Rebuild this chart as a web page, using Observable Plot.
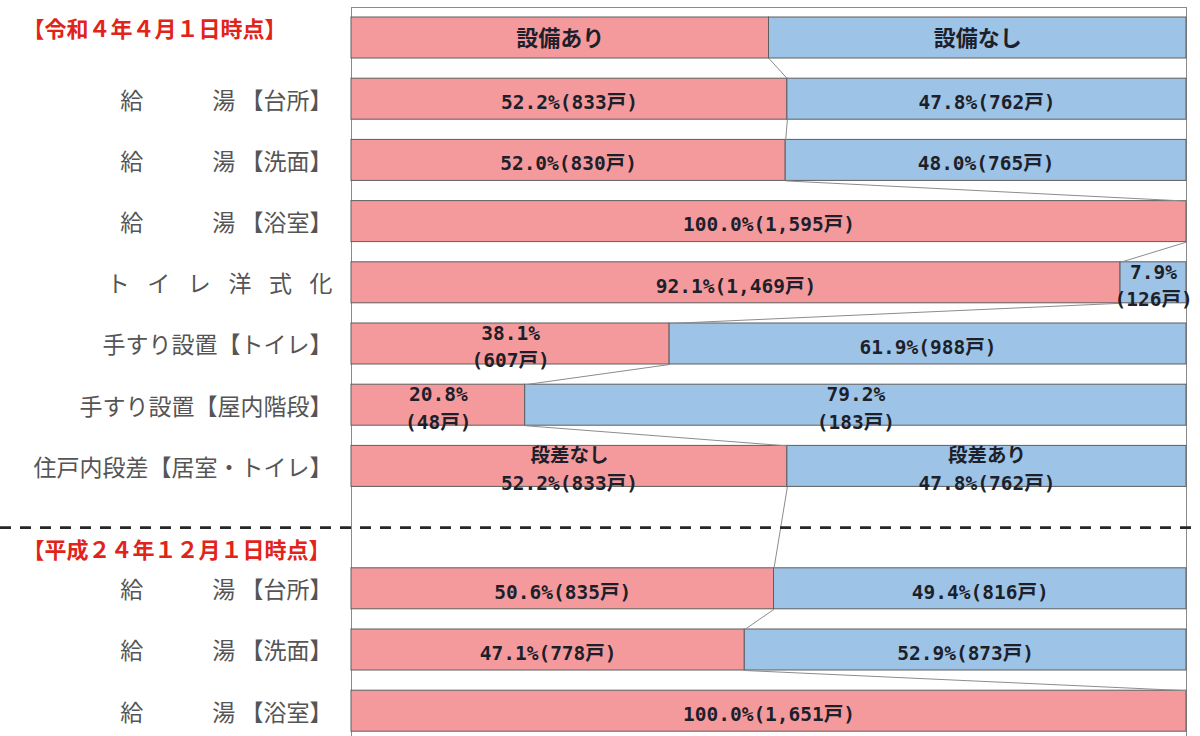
<!DOCTYPE html>
<html lang="ja">
<head>
<meta charset="utf-8">
<script src="https://cdn.jsdelivr.net/npm/d3@7"></script>
<script src="https://cdn.jsdelivr.net/npm/@observablehq/plot@0.6"></script>
<style>
  html, body { margin: 0; padding: 0; background: #fff; }
</style>
</head>
<body>
<div id="chart"></div>
<script>
// Section headings
const sectionTitles = ["【令和４年４月１日時点】", "【平成２４年１２月１日時点】"];

// Header legend bar
const headerLabels = ["設備あり", "設備なし"];
const headerSplit = 50;

// Words shown above the numbers on the step (段差) row
const stepWords = ["段差なし", "段差あり"];

// Survey as of 2022-04-01 (令和4年)
const itemsR4 = [
  "給　　　湯 【台所】",
  "給　　　湯 【洗面】",
  "給　　　湯 【浴室】",
  "ト\u2002\u2009\u200Aイ\u2002\u2009\u200Aレ\u2002\u2009\u200A洋\u2002\u2009\u200A式\u2002\u2009\u200A化",
  "手すり設置【トイレ】",
  "手すり設置【屋内階段】",
  "住戸内段差【居室・トイレ】"
];
const yesPctR4   = [52.2, 52.0, 100.0, 92.1, 38.1, 20.8, 52.2];
const yesCountR4 = [833, 830, 1595, 1469, 607, 48, 833];
const noPctR4    = [47.8, 48.0, 0, 7.9, 61.9, 79.2, 47.8];
const noCountR4  = [762, 765, 0, 126, 988, 183, 762];

// Survey as of 2012-12-01 (平成24年)
const itemsH24 = [
  "給　　　湯 【台所】",
  "給　　　湯 【洗面】",
  "給　　　湯 【浴室】"
];
const yesPctH24   = [50.6, 47.1, 100.0];
const yesCountH24 = [835, 778, 1651];
const noPctH24    = [49.4, 52.9, 0];
const noCountH24  = [816, 873, 0];

// ---- layout helpers ----
const PINK = "#F49A9C";
const BLUE = "#9DC3E6";
const bandFrac = 0.67;               // bar thickness as a share of one row step
const STEP_ROW_R4 = 6;               // index of the 段差 row within itemsR4
// segments whose label is split onto two lines: "row:side"
const wrapped = new Set(["r4-3:no", "r4-4:yes", "r4-5:yes", "r4-5:no"]);

const fmtCount = d3.format(",");

// Build rows in drawing order; one empty row separates the two surveys.
const rows = [];
let idx = 0;
rows.push({key: "header", idx: idx++, label: "", yes: headerSplit, no: 100 - headerSplit, header: true});
itemsR4.forEach((label, i) => rows.push({
  key: `r4-${i}`, idx: idx++, label,
  yes: yesPctR4[i], yesN: yesCountR4[i], no: noPctR4[i], noN: noCountR4[i],
  step: i === STEP_ROW_R4
}));
const gapIdx = idx++;
itemsH24.forEach((label, i) => rows.push({
  key: `h24-${i}`, idx: idx++, label,
  yes: yesPctH24[i], yesN: yesCountH24[i], no: noPctH24[i], noN: noCountH24[i]
}));
const rowCount = idx;

// Bar segments (left = 設備あり / pink, right = 設備なし / blue)
const segments = [];
for (const r of rows) {
  for (const side of ["yes", "no"]) {
    const pct = r[side];
    if (!(pct > 0)) continue;
    const x1 = side === "yes" ? 0 : r.yes;
    const x2 = side === "yes" ? r.yes : 100;
    let text;
    if (r.header) {
      text = side === "yes" ? headerLabels[0] : headerLabels[1];
    } else {
      const p = pct.toFixed(1) + "%";
      const n = "(" + fmtCount(side === "yes" ? r.yesN : r.noN) + "戸)";
      text = wrapped.has(`${r.key}:${side}`) ? p + "\n" + n : p + n;
      if (r.step) text = (side === "yes" ? stepWords[0] : stepWords[1]) + "\n" + text;
    }
    segments.push({idx: r.idx, x1, x2, fill: side === "yes" ? PINK : BLUE, text, header: !!r.header});
  }
}

// Thin connector lines joining the pink/blue boundary of consecutive bars
const connectors = [];
for (let i = 0; i + 1 < rows.length; i++) {
  const a = rows[i], b = rows[i + 1];
  connectors.push({x1: a.yes, y1: a.idx + bandFrac, x2: b.yes, y2: b.idx});
}

// Dashed separator between the two surveys
const sepY = ((gapIdx - 1) + bandFrac + (gapIdx + 1)) / 2;

const labelFont = '"Noto Sans CJK JP", "Noto Sans CJK SC", sans-serif';
const numFont = '"DejaVu Sans Mono", "Noto Sans CJK JP", monospace';

const chart = Plot.plot({
  width: 1200,
  height: 736,
  marginLeft: 351,
  marginRight: 14,
  marginTop: 7,
  marginBottom: 0,
  x: {domain: [0, 100], axis: null},
  y: {domain: [0, rowCount - 1 + bandFrac], range: [17, 731.2], axis: null},
  style: {background: "#fff"},
  marks: [
    Plot.frame({stroke: "#8a8a8a", strokeWidth: 1, fill: "none"}),
    Plot.rect(segments, {
      x1: "x1", x2: "x2",
      y1: d => d.idx, y2: d => d.idx + bandFrac,
      fill: "fill", stroke: "#5e5e5e", strokeWidth: 1
    }),
    Plot.link(connectors, {
      x1: "x1", y1: "y1", x2: "x2", y2: "y2",
      stroke: "#8c8c8c", strokeWidth: 1
    }),
    Plot.ruleY([sepY], {
      stroke: "#262626", strokeWidth: 2.6, strokeDasharray: "11,9",
      insetLeft: -351, insetRight: -14
    }),
    // segment labels
    Plot.text(segments.filter(d => !d.header), {
      x: d => (d.x1 + d.x2) / 2,
      y: d => d.idx + bandFrac / 2,
      text: "text",
      dy: 1,
      lineHeight: 1.4,
      fontFamily: numFont, fontWeight: "bold", fontSize: 19.5,
      fill: "#1d1f2b"
    }),
    Plot.text(segments.filter(d => d.header), {
      x: d => (d.x1 + d.x2) / 2,
      y: d => d.idx + bandFrac / 2,
      text: "text",
      dy: 1,
      fontFamily: labelFont, fontWeight: "bold", fontSize: 22,
      fill: "#1d1f2b"
    }),
    // row labels left of the bars
    Plot.text(rows.filter(d => d.label), {
      frameAnchor: "left",
      y: d => d.idx + bandFrac / 2,
      text: "label",
      textAnchor: "end",
      dx: -19, dy: 2,
      fontFamily: labelFont, fontSize: 23,
      fill: "#555555"
    }),
    // survey headings: first beside the legend bar, second just above its rows
    Plot.text([{t: sectionTitles[0], y: bandFrac / 2}, {t: sectionTitles[1], y: gapIdx + 1 - 0.15}], {
      frameAnchor: "left",
      y: "y",
      text: "t",
      textAnchor: "start",
      dx: -329,
      dy: -8,
      fontFamily: labelFont, fontWeight: "bold", fontSize: 22,
      fill: "#E2231A"
    })
  ]
});

document.getElementById("chart").append(chart);
</script>
</body>
</html>
